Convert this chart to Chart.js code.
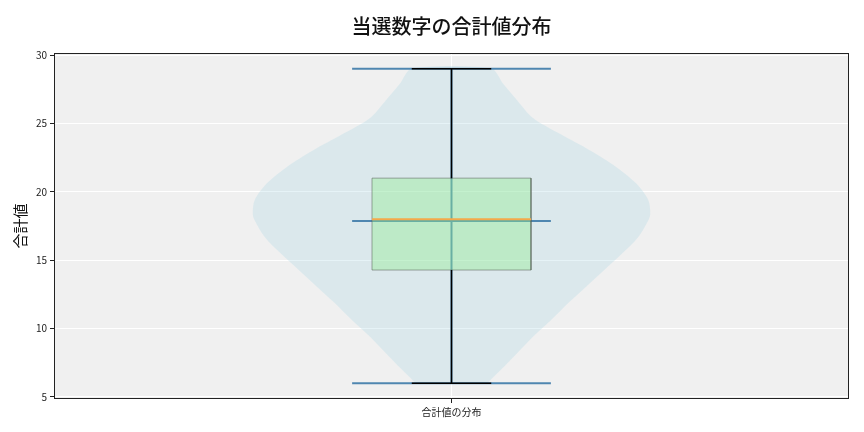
<!DOCTYPE html>
<html>
<head>
<meta charset="utf-8">
<script src="https://cdn.jsdelivr.net/npm/chart.js@4/dist/chart.umd.min.js"></script>
<style>
  html, body { margin: 0; padding: 0; background: #fff; }
  #wrap { width: 864px; height: 432px; }
</style>
</head>
<body>
<div id="wrap"><canvas id="c"></canvas></div>
<script>
// Values.
const titleText = '当選数字の合計値分布';
const category = '合計値の分布';
const yTicks = [5, 10, 15, 20, 25, 30];

// Violin outline: sum value vs relative density (1 = widest point).
const violinY = [6, 7, 8.2, 9.4, 10.6, 11.9, 13.1, 14.3, 15.5, 16.7, 17.9, 18.4, 19.4, 20.6, 21.8, 23, 24.2, 25.4, 26.7, 27.9, 29];
const violinDensity = [0.18, 0.25, 0.33, 0.41, 0.50, 0.59, 0.68, 0.77, 0.86, 0.94, 0.99, 1.0, 0.99, 0.93, 0.83, 0.70, 0.55, 0.41, 0.33, 0.26, 0.20];

// Summary statistics.
const dataMin = 6;
const dataMax = 29;
const meanValue = 17.87;
const q1 = 14.28;
const medianValue = 18;
const q3 = 21;

const POS = 1;            // category position on x
const VIOLIN_HALF = 0.25; // half of violin width
const LINE_HALF = 0.125;  // violin min/mean/max bars
const BOX_HALF = 0.1;
const CAP_HALF = 0.05;

const seg = (x1, x2, y) => [{ x: x1, y }, { x: x2, y }, { x: POS, y: null }];

// closed violin polygon: up the left side, down the right side
const violinPts = [
  ...violinY.map((y, i) => ({ x: POS - violinDensity[i] * VIOLIN_HALF, y })),
  ...violinY.map((y, i) => ({ x: POS + violinDensity[i] * VIOLIN_HALF, y })).reverse(),
];

const blueLines = [
  ...seg(POS - LINE_HALF, POS + LINE_HALF, dataMin),
  ...seg(POS - LINE_HALF, POS + LINE_HALF, meanValue),
  ...seg(POS - LINE_HALF, POS + LINE_HALF, dataMax),
  { x: POS, y: dataMin }, { x: POS, y: dataMax },
];

const boxPts = [
  { x: POS - BOX_HALF, y: q1 }, { x: POS - BOX_HALF, y: q3 },
  { x: POS + BOX_HALF, y: q3 }, { x: POS + BOX_HALF, y: q1 },
  { x: POS - BOX_HALF, y: q1 },
];

const whiskers = [
  { x: POS, y: dataMin }, { x: POS, y: q1 }, { x: POS, y: null },
  { x: POS, y: q3 }, { x: POS, y: dataMax }, { x: POS, y: null },
  ...seg(POS - CAP_HALF, POS + CAP_HALF, dataMin),
  ...seg(POS - CAP_HALF, POS + CAP_HALF, dataMax),
];

const medianLine = seg(POS - BOX_HALF, POS + BOX_HALF, medianValue);

const FONT = '"Noto Sans CJK JP", "Noto Sans", sans-serif';

// plot-area background, spines, and a title centred over the plot area
const frame = {
  id: 'frame',
  beforeDraw(chart) {
    const { ctx, chartArea: a } = chart;
    ctx.save();
    ctx.fillStyle = '#f0f0f0';
    ctx.fillRect(a.left, a.top, a.right - a.left, a.bottom - a.top);
    ctx.restore();
  },
  afterDraw(chart) {
    const { ctx, chartArea: a } = chart;
    ctx.save();
    ctx.strokeStyle = '#222';
    ctx.lineWidth = 1;
    ctx.strokeRect(Math.round(a.left) + 0.5, Math.round(a.top) + 0.5,
      Math.round(a.right - a.left) - 1, Math.round(a.bottom - a.top) - 1);
    ctx.font = '500 20px ' + FONT;
    ctx.fillStyle = '#111';
    ctx.textAlign = 'center';
    ctx.textBaseline = 'middle';
    ctx.fillText(titleText, (a.left + a.right) / 2, 26);
    ctx.restore();
  },
};

const line = (data, color, width, order, extra = {}) => ({
  data, borderColor: color, borderWidth: width, pointRadius: 0,
  fill: false, spanGaps: false, order, ...extra,
});

new Chart(document.getElementById('c'), {
  type: 'line',
  data: {
    datasets: [
      line(violinPts, 'rgba(0,0,0,0)', 0, 6, {
        fill: 'shape', backgroundColor: 'rgba(173,216,230,0.3)', tension: 0.3,
      }),
      line(blueLines, '#4f86b0', 2, 5),
      line(boxPts, 'rgba(90,100,90,0.55)', 1, 4, {
        fill: 'shape', backgroundColor: 'rgba(144,238,144,0.4)',
      }),
      line(whiskers, '#000', 1.5, 3),
      line(medianLine, '#f5a94a', 2, 2),
    ],
  },
  options: {
    responsive: true,
    maintainAspectRatio: false,
    animation: false,
    events: [],
    layout: { padding: { top: 53, right: 15, bottom: 0, left: 0 } },
    scales: {
      x: {
        type: 'linear',
        min: 0.5,
        max: 1.5,
        afterBuildTicks: s => { s.ticks = [{ value: POS }]; },
        afterFit: s => { s.height = 33; },
        ticks: { callback: () => category, color: '#222', font: { family: FONT, size: 10 }, padding: 3 },
        grid: { color: '#ffffff', lineWidth: 1, tickColor: '#222', tickLength: 4 },
        border: { display: false },
      },
      y: {
        min: 4.85,
        max: 30.15,
        afterBuildTicks: s => { s.ticks = yTicks.map(v => ({ value: v })); },
        afterFit: s => { s.width = 54; },
        ticks: { color: '#222', font: { family: FONT, size: 10 }, padding: 3 },
        grid: { color: '#ffffff', lineWidth: 1, tickColor: '#222', tickLength: 4 },
        border: { display: false },
        title: {
          display: true, text: '合計値', color: '#111',
          font: { family: FONT, size: 15 }, padding: { top: 11, bottom: 0 },
        },
      },
    },
    plugins: {
      legend: { display: false },
      tooltip: { enabled: false },
      title: { display: false },
    },
  },
  plugins: [frame],
});
</script>
</body>
</html>
